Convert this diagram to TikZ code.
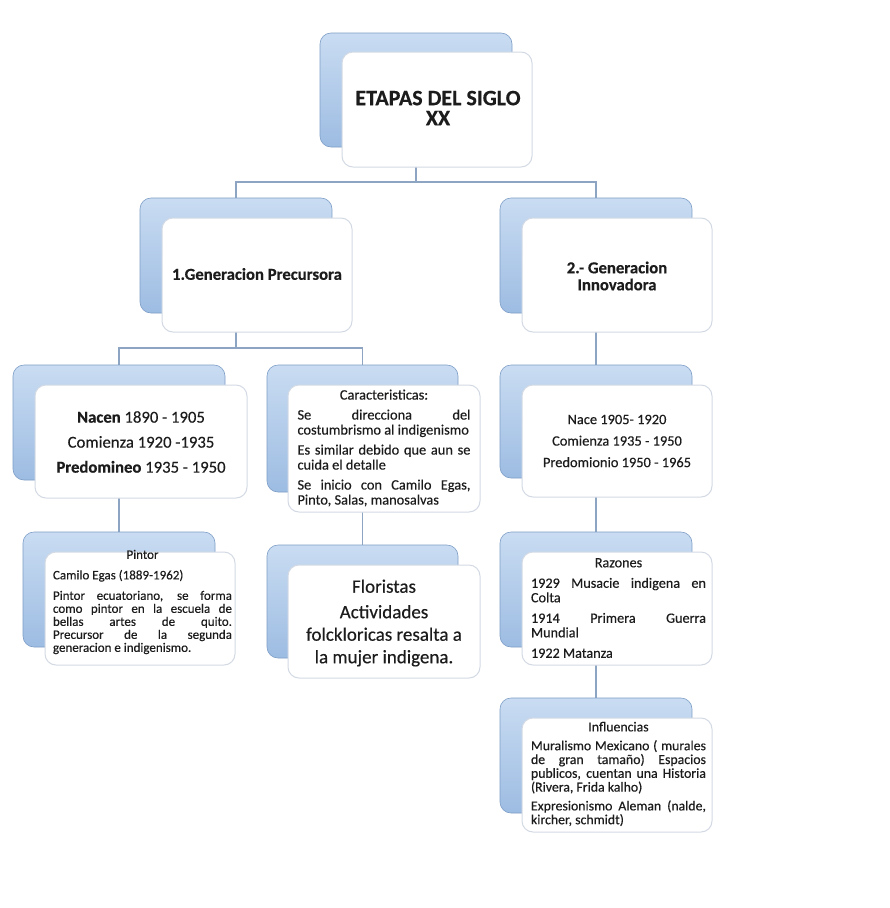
\documentclass[tikz,border=0pt]{standalone}
\usepackage{fontspec}
\setmainfont{Carlito}[FakeBold=0.35]
\usetikzlibrary{backgrounds}
\definecolor{backtop}{HTML}{C9DCF2}
\definecolor{backbot}{HTML}{9DBCE2}
\definecolor{backline}{HTML}{7E9EC7}
\definecolor{frontline}{HTML}{D3DAE4}
\definecolor{connclr}{HTML}{8DA5C2}
\definecolor{txt}{HTML}{1C1C1C}
\hyphenpenalty=10000
\exhyphenpenalty=10000
\tolerance=10000
\hbadness=10000
\tikzset{
  backbox/.style={draw=backline, line width=0.6pt, rounded corners=11pt,
    top color=backtop, bottom color=backbot, inner sep=0pt},
  frontbox/.style={draw=frontline, line width=1pt, fill=white,
    rounded corners=11pt, inner sep=0pt},
  connector/.style={draw=connclr, line width=1.2pt},
  lbl/.style={inner sep=0pt, text=txt, align=center},
  para/.style={inner sep=0pt, text=txt, align=justify},
}
\begin{document}
\begin{tikzpicture}[x=1pt, y=-1pt]
\useasboundingbox (0,0) rectangle (890,908);

% level 0
\node[backbox, minimum width=192pt, minimum height=114pt] (b0) at (416,90) {};
\node[frontbox, minimum width=190pt, minimum height=115pt] (f0) at (437,109.5) {};
\node[lbl, font=\bfseries\fontsize{22}{20}\selectfont] (t0) at (438,108) {ETAPAS DEL SIGLO\\XX};

% level 1
\node[backbox, minimum width=192pt, minimum height=115pt] (b1) at (236,255.5) {};
\node[frontbox, minimum width=190pt, minimum height=114pt] (f1) at (257,275) {};
\node[lbl, font=\bfseries\fontsize{16.7}{17}\selectfont] (t1) at (257,274) {1.Generacion Precursora};

\node[backbox, minimum width=192pt, minimum height=115pt] (b2) at (596,255.5) {};
\node[frontbox, minimum width=190pt, minimum height=114pt] (f2) at (617,275) {};
\node[lbl, font=\bfseries\fontsize{16.7}{17}\selectfont] (t2) at (617,276) {2.- Generacion\\Innovadora};

% level 2
\node[backbox, minimum width=212pt, minimum height=115pt] (b3) at (119,422.5) {};
\node[frontbox, minimum width=212pt, minimum height=113pt] (f3) at (141,441.5) {};
\node[lbl, font=\fontsize{16.7}{25}\selectfont] (t3) at (141,442)
  {\textbf{Nacen} 1890 - 1905\\Comienza 1920 -1935\\\textbf{Predomineo} 1935 - 1950};

\node[backbox, minimum width=191pt, minimum height=127pt] (b4) at (362.5,428.5) {};
\node[frontbox, minimum width=192pt, minimum height=127pt] (f4) at (384,448.5) {};
\node[para, text width=173pt, font=\fontsize{14.4}{15}\selectfont] (t4) at (384,448)
  {\setlength{\parskip}{5pt}{\centering Caracteristicas:\par}
   Se direcciona del\linebreak costumbrismo al indigenismo\par
   Es similar debido que aun se\linebreak cuida el detalle\par
   Se inicio con Camilo Egas,\linebreak Pinto, Salas, manosalvas\par};

\node[backbox, minimum width=192pt, minimum height=113pt] (b5) at (596,421.5) {};
\node[frontbox, minimum width=190pt, minimum height=112pt] (f5) at (617,441) {};
\node[lbl, font=\fontsize{14.4}{21.5}\selectfont] (t5) at (617,441)
  {Nace 1905- 1920\\Comienza 1935 - 1950\\Predomionio 1950 - 1965};

% level 3
\node[backbox, minimum width=192pt, minimum height=115pt] (b6) at (119,589.5) {};
\node[frontbox, minimum width=190pt, minimum height=113pt] (f6) at (140,608.5) {};
\node[para, text width=179pt, font=\fontsize{13}{13}\selectfont] (t6) at (142.5,602)
  {\setlength{\parskip}{7.5pt}{\centering Pintor\par}
   Camilo Egas (1889-1962)\par
   Pintor ecuatoriano, se forma\linebreak como pintor en la escuela de\linebreak
   bellas artes de quito.\linebreak Precursor de la segunda\linebreak
   generacion e indigenismo.\par};

\node[backbox, minimum width=191pt, minimum height=113pt] (b7) at (362.5,601.5) {};
\node[frontbox, minimum width=192pt, minimum height=113pt] (f7) at (384,621.5) {};
\node[lbl, font=\fontsize{19}{22.5}\selectfont] (t7) at (384,623)
  {Floristas\\[3pt]Actividades\\folckloricas resalta a\\la mujer indigena.};

\node[backbox, minimum width=192pt, minimum height=115pt] (b8) at (596,589.5) {};
\node[frontbox, minimum width=190pt, minimum height=113pt] (f8) at (617,608.5) {};
\node[para, text width=175pt, font=\fontsize{14.2}{14.5}\selectfont] (t8) at (618.5,608)
  {\setlength{\parskip}{6pt}{\centering Razones\par}
   1929 Musacie indigena en\linebreak Colta\par
   1914 Primera Guerra\linebreak Mundial\par
   1922 Matanza\par};

% level 4
\node[backbox, minimum width=192pt, minimum height=115pt] (b9) at (596,755.5) {};
\node[frontbox, minimum width=190pt, minimum height=114pt] (f9) at (617,775) {};
\node[para, text width=175pt, font=\fontsize{13.8}{13.8}\selectfont] (t9) at (618.5,774)
  {\setlength{\parskip}{5pt}{\centering Influencias\par}
   Muralismo Mexicano ( murales\linebreak de gran tamaño) Espacios\linebreak
   publicos, cuentan una Historia\linebreak (Rivera, Frida kalho)\par
   Expresionismo Aleman (nalde,\linebreak kircher, schmidt)\par};

% connectors
\begin{pgfonlayer}{background}
\fill[white] (0,0) rectangle (890,908);
\coordinate (h1) at (416,182);
\coordinate (h2) at (236,348);
\draw[connector] (b0.center) -- (h1) -| (b1.center);
\draw[connector] (h1) -| (b2.center);
\draw[connector] (b1.center) -- (h2) -| (b3.center);
\draw[connector] (h2) -| (b4.center);
\draw[connector] (b2.center) -- (b5.center);
\draw[connector] (b3.center) -- (b6.center);
\draw[connector] (b4.center) -- (b7.center);
\draw[connector] (b5.center) -- (b8.center);
\draw[connector] (b8.center) -- (b9.center);
\end{pgfonlayer}
\end{tikzpicture}
\end{document}
